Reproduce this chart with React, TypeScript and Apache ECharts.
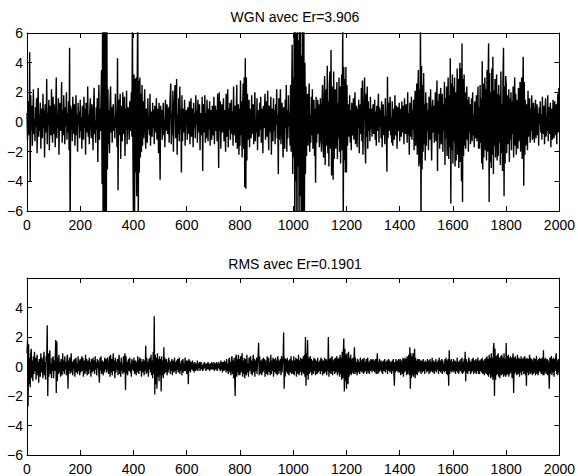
import React, { useEffect, useRef } from "react";
import * as echarts from "echarts";

// One stored value every 2 samples (1000 values over 2000 samples)
const SAMPLE_STEP = 2;

const wgnTitle = "WGN avec Er=3.906";
const rmsTitle = "RMS avec Er=0.1901";

const xTicks = { min: 0, max: 2000, interval: 200 };
const yTicks = { min: -6, max: 6, interval: 2 };

// WGN signal (top)
const wgnValues: number[] = [
  0.6, -1.2, 1.4, 0.3, -0.9, 4.7, -4.0, 1.8, -0.5, 1.1, -1.6, 0.4, 2.2, -0.8, 0.2, -1.3, 1.0, -0.3, 1.6, -2.1, 0.7, 2.3, -1.0, 0.5, -0.6, 1.3, -1.8, 0.9, 0.1, -1.1, 1.9, -0.4, 0.8, -2.4, 1.2, 0.3, -0.7, 2.9, -1.5, 0.6, -0.2, 1.5, -1.9, 0.4, 1.1, -0.9, 2.2, -0.3, -1.4, 1.7,
  -0.8, 1.2, 0.2, -1.7, 0.9, 3.0, -1.1, 0.5, -0.4, 1.6, -2.2, 0.7, 1.3, -0.6, 0.3, 2.7, -1.4, 0.8, -0.9, 1.8, 0.1, -1.5, 1.0, -0.3, 2.0, -1.2, 0.6, -0.7, 1.4, -1.9, 5.0, -7.5, 1.1, -0.5, 0.9, -1.3, 1.7, 0.2, -0.8, 1.2, -1.6, 0.4, 1.8, -0.9, 0.5, -2.0, 1.3, -0.2, 0.7, -1.1,
  1.5, -0.6, 0.3, -1.8, 1.1, 0.6, -1.2, 1.7, -0.4, 0.9, -2.2, 1.3, 0.2, -0.7, 2.4, -1.0, 0.5, -1.5, 0.8, 1.6, -0.3, -1.1, 1.2, 0.4, -1.9, 0.7, 2.3, -0.8, 0.1, -1.4, 1.0, -0.5, 1.6, -2.7, 0.6, 2.5, -1.2, 0.9, -0.6, 1.4, 3.5, -4.2, 7.5, -8.0, 9.0, -7.0, 8.0, -6.5, 6.8, -7.2,
  6.5, -3.2, 2.2, -1.5, 0.8, -2.1, 1.4, 2.4, -0.7, 1.0, -1.4, 0.5, 1.2, -0.6, 0.3, -1.1, 1.9, -0.4, 0.7, -1.7, 4.3, -4.6, 1.5, -0.9, 0.6, 1.9, -2.5, 0.4, 1.1, -1.3, 2.0, -0.8, 0.2, 1.7, -2.3, 0.9, -0.5, 2.1, -1.5, 0.6, 1.0, -0.3, -1.2, 1.4, -0.6, 0.8, 2.0, -1.0, 7.0, -2.5,
  -7.5, 3.2, -6.8, 2.9, -3.4, 3.0, -5.0, 2.6, 8.0, -7.0, 2.8, -3.4, 3.0, -2.4, 1.9, -2.0, 2.5, -1.6, 1.4, -1.1, 0.6, 2.2, -0.8, -1.8, 0.9, 0.3, -1.4, 1.6, -0.5, 0.4, -0.9, 1.9, -1.6, 0.7, 0.2, -1.0, 1.3, -0.4, 0.8, -1.5, 1.1, 0.5, -0.7, 1.6, -1.2, 0.3, 0.9, -2.1, 1.3, -0.6,
  -3.9, 1.1, -0.4, 0.8, -1.2, 0.5, 1.3, -0.9, 0.2, -1.7, 1.5, -0.6, 0.4, 1.2, -0.8, -0.3, 1.0, -1.4, 0.7, 1.8, 2.6, -1.5, 0.6, -0.9, 2.1, -2.0, 0.8, 1.4, 2.5, -1.1, 0.3, 2.9, -2.2, 0.5, -0.8, 1.6, -1.3, 2.4, -0.5, 0.9, -3.4, 1.8, -1.3, 0.4, 0.9, -0.7, 1.5, -1.6, 0.2, 0.8,
  0.7, -1.2, 1.0, 0.2, -0.8, 1.4, -1.5, 0.5, 1.6, -1.0, 0.3, 0.9, -1.7, 1.3, -0.4, 0.6, -1.1, 1.8, -0.2, 0.8, -1.4, 1.5, 0.1, -0.7, 1.2, -1.9, 0.4, 0.6, -0.9, 1.7, -3.3, 1.2, -0.7, 0.3, 1.8, -1.4, 0.6, -1.1, 1.5, 0.2, -1.3, 0.9, -0.5, 1.4, -1.6, 0.8, 0.4, -1.2, 1.1, -0.6,
  -0.9, 1.7, -1.5, 0.4, 1.1, -0.6, 0.8, -1.3, 1.9, -0.2, -3.1, 2.0, -0.6, 1.4, -1.8, 0.5, 1.2, -0.7, 0.3, 1.6, -1.3, 0.8, -0.4, -2.0, 1.9, -1.0, 0.6, 2.2, -1.7, 0.9, -0.5, 1.3, -1.2, 0.2, 1.5, -0.8, 0.7, -1.6, 2.4, -0.9, 0.4, 1.1, -1.4, 0.6, 2.5, -1.8, 0.3, 1.2, -2.2, 0.9,
  -1.6, 2.8, -0.9, 1.4, -2.4, 0.7, 2.6, -1.8, 3.0, -4.4, 4.3, -4.5, 3.0, -2.6, 1.9, -1.2, 0.5, 1.5, -1.7, 0.9, -0.3, -1.1, 1.8, -0.8, 0.4, 1.2, -1.5, 0.6, 2.0, -1.3, 0.2, -0.7, 1.6, -1.9, 0.8, 0.3, -1.0, 1.3, -0.5, 1.7, -1.4, 0.5, 0.9, -2.1, 1.1, -0.4, 0.7, 1.9, -1.2, 0.3,
  1.4, -1.0, 2.1, -0.5, -1.9, 1.1, 0.4, -0.7, 1.7, -2.2, 0.9, 0.2, -1.3, 1.6, -0.6, 0.8, -1.5, 1.2, -0.2, 2.2, -1.1, 0.5, -3.5, 1.6, -1.2, 0.7, 2.2, -1.5, 0.3, 1.3, -0.9, -2.4, 1.0, 0.6, -1.8, 1.5, -0.4, 2.5, -2.0, 0.8, -1.1, 1.8, -0.3, 0.6, -1.6, 2.5, -2.0, 1.2, 5.2, -3.5,
  3.0, -2.4, 8.0, -8.5, 7.5, -4.0, 6.0, -9.0, 8.5, -3.0, 5.5, -7.5, 7.0, -5.0, 8.0, -7.0, 4.5, -6.5, 7.5, -8.0, 6.5, -6.8, 4.0, -3.5, 2.4, -2.3, 1.2, 1.9, -1.6, 0.8, 2.6, -2.0, 0.5, -1.4, 1.7, -0.9, 2.2, -1.8, 0.6, 1.5, -2.3, 0.9, -4.1, 1.7, -1.4, 0.4, 1.5, -0.8, 1.2, -1.7,
  -1.2, 1.6, 0.3, -2.0, 1.1, 2.5, -1.4, -2.4, 1.8, 3.1, -2.9, 0.7, 2.2, -1.6, 3.8, -2.1, 1.4, -3.0, 2.6, 3.4, -1.8, 4.85, -3.6, 2.4, -1.2, -3.9, 3.4, -2.5, 1.6, 2.2, -1.8, 0.9, 2.7, -2.5, 1.3, -1.1, 3.0, -2.0, 2.4, -2.8, 1.5, 3.2, -1.9, 7.0, -7.2, 3.7, -2.6, 2.9, -3.4, 3.7,
  -3.4, 2.5, -1.6, 1.2, 0.4, -1.0, 1.8, -1.4, 0.8, -1.9, 1.3, -0.2, -0.9, 1.6, -1.2, 0.7, 2.0, -1.5, 0.3, 1.1, -1.7, 0.9, -0.4, 1.5, -2.1, 0.6, 1.2, -0.8, 2.3, -1.3, 2.8, -2.2, 0.5, 1.4, 3.0, -1.6, -2.8, 1.9, -1.0, 2.4, -1.8, 1.4, -0.6, 0.9, -1.3, 1.7, -0.5, 0.9, -1.0, 0.3,
  1.2, -0.8, 0.3, 1.5, -1.2, 0.7, -1.6, 1.1, -0.6, 0.2, 1.9, -1.4, 1.0, -0.3, 0.8, -1.1, 1.4, -1.7, 0.5, 1.2, -0.9, 0.4, -1.5, 1.6, 0.1, -0.7, -3.35, 3.05, -1.1, 1.3, -0.6, 0.8, 1.7, -0.9, 0.3, -1.4, 1.4, -1.6, 0.6, 0.9, -1.2, 1.8, -0.4, -0.9, 1.1, -1.8, 0.5, 1.0, -0.6, 1.3,
  -1.3, 0.9, -0.3, -1.0, 1.4, -0.7, 0.4, 1.1, -1.5, 1.6, -0.2, -0.8, 1.2, 0.5, -1.4, 2.0, -0.9, 0.6, -2.2, 1.3, 0.3, -1.0, 1.7, -1.2, 0.8, -0.5, 1.5, -1.9, 0.9, 2.1, -1.6, 0.4, 2.6, -2.2, 1.4, 3.5, -3.0, 2.2, -2.8, 7.0, -7.5, 3.8, -3.2, 2.5, -2.0, 3.3, -1.5, 1.2, -2.6, 2.0,
  -1.6, 1.3, -0.6, 0.8, -1.9, 1.7, 0.4, -1.2, 2.2, -0.9, -2.6, 0.9, 1.5, -0.7, 1.1, -1.4, 0.6, 2.0, -1.3, 0.5, 2.8, -3.3, 1.4, -0.8, 1.9, -1.8, 0.7, 2.3, -1.5, 0.3, 1.9, -2.0, 1.2, -0.6, 2.7, -2.9, 1.6, -1.1, 2.4, -2.3, 0.9, 3.0, -2.5, 1.8, -1.7, 4.3, -5.5, 2.6, -1.9, 3.2,
  -2.8, 2.4, -1.3, 3.0, -3.0, 2.0, -2.6, 1.1, 3.6, -2.2, 2.9, -3.1, 1.8, 4.0, -2.7, 3.6, -4.0, 5.3, -5.4, 2.9, -2.3, 3.2, -1.6, 2.0, -1.8, 0.8, 2.4, -1.2, 1.5, -2.0, 1.7, -0.7, 1.2, -1.5, 0.6, 1.6, -1.3, 2.0, -0.9, 0.5, -1.7, 1.4, 0.3, -1.1, 1.8, -1.3, 0.7, 2.4, -1.8, 1.0,
  -1.8, 2.5, -1.4, 1.6, -2.8, 4.1, -3.2, 2.6, -2.4, 1.3, 3.0, -1.9, 2.2, -2.6, 3.5, -2.0, 2.8, 5.3, -5.4, 3.3, -2.7, 2.0, -3.1, 3.6, -2.2, 4.4, -3.5, 2.1, -1.6, 2.9, -2.4, 1.5, 3.2, -2.6, 1.9, -2.3, 2.5, -1.4, 1.8, -2.9, 3.4, -2.1, 1.2, -3.3, 3.0, 5.0, -5.0, 2.4, -2.8, 3.1,
  2.6, -2.1, 1.8, -1.5, 0.7, 2.2, -2.7, 1.6, -1.2, 2.0, -1.9, 1.4, -0.8, 2.4, -2.4, 1.1, 3.0, -1.6, 1.9, -2.2, 0.9, 1.5, -1.8, 2.3, -1.3, 0.6, 2.7, -2.0, 1.2, 3.0, -2.5, 1.8, 4.4, -4.3, 2.7, -2.2, 1.5, -1.6, 0.8, 1.2, -1.9, 2.1, -1.0, 0.5, 1.6, -1.4, 0.9, -0.6, 1.8, -1.2,
  -1.0, 1.3, -0.4, -1.4, 0.8, 1.5, -1.1, 0.3, 1.2, -0.9, 0.6, -1.6, 1.0, -0.2, 1.4, -0.7, 0.5, -1.2, 1.7, -0.8, 0.2, 1.1, -1.5, 0.9, 1.6, -1.0, 0.4, -0.6, 1.8, -1.3, 0.7, 1.0, -0.8, 1.3, -1.7, 0.5, 0.9, -1.2, 1.5, -0.4, -1.1, 1.4, 0.6, -0.9, 1.2, -1.5, 0.8, 1.9, -0.7, 2.3,
];

// RMS signal (bottom)
const rmsValues: number[] = [
  0.9, 1.8, -2.7, 1.5, -1.2, 0.6, -1.4, 0.9, 1.2, -0.8, 0.4, -1.0, 0.7, -0.5, 1.0, -0.3, 0.6, -0.9, 0.4, 0.8, -0.6, 0.3, -1.1, 0.5, 0.2, -0.7, 0.9, -0.4, 0.6, -0.2, -0.8, 0.5, 1.0, -0.6, 0.3, -0.9, 0.7, 0.4, 2.8, -2.0, 0.9, -0.7, 0.5, 1.1, -0.5, 0.2, -0.8, 0.6, -0.3, 0.7,
  -0.8, 0.4, -0.3, 0.6, 1.8, -1.8, 1.7, -1.0, 0.6, -0.5, 0.8, -0.4, 0.3, -0.7, 0.5, 0.2, -0.6, 0.9, -0.3, 0.4, -0.5, 0.7, -0.2, 0.3, -0.6, 0.5, 0.8, -1.5, 0.4, -0.3, 0.6, -0.5, 0.2, 0.9, -0.4, 0.3, -0.6, 0.4, -0.2, 0.5, -0.7, 0.3, 0.6, -0.4, 0.2, -0.5, 0.7, -0.3, 0.4, -0.6,
  0.5, -0.4, 0.2, 0.7, -0.3, 0.6, -0.7, 0.4, -0.2, -0.5, 0.8, -0.3, 0.5, -0.6, 0.1, 0.4, -0.5, 0.6, -0.2, 0.3, -0.7, 0.5, 0.2, -0.4, 0.6, -0.3, 0.4, -0.5, 0.7, -0.2, 0.3, -0.6, 0.5, -0.1, 0.4, -0.5, -1.1, 0.6, -0.3, 0.7, -0.5, 0.2, 0.4, -0.6, 0.3, -0.4, 0.6, -0.2, 0.5, -0.4,
  -0.4, 0.6, -0.2, -0.5, 0.3, 0.7, -0.7, 0.8, -0.4, 0.5, -0.6, 0.2, 0.9, -0.3, 0.4, -0.8, 0.6, -0.4, 0.3, -0.2, 0.5, -0.6, 0.4, 0.8, -0.5, 0.3, -0.7, 0.6, -0.3, 0.2, -0.5, 0.7, -0.4, 0.5, 0.9, -1.6, 0.7, -0.5, 0.3, -0.6, 0.4, 0.5, -0.3, 0.6, -0.4, 0.2, -0.7, 0.5, -0.2, 0.4,
  -0.3, 0.6, -0.5, 0.2, 0.4, -0.6, 0.3, -0.4, 0.7, -0.2, -0.5, 0.4, 0.6, -0.3, 0.5, -0.7, 0.3, -0.4, 0.5, 0.2, -0.6, 0.4, -0.3, 1.4, -0.5, 0.6, -0.4, 0.3, -0.7, 0.5, -0.2, 0.6, -0.4, 0.8, -0.6, 0.4, -0.8, 1.0, -0.5, 3.4, -1.9, 0.8, -1.2, 0.6, -1.5, 0.9, -0.7, 0.5, -1.0, 0.7,
  -0.6, 0.5, -1.7, 0.7, -0.6, 0.4, -0.8, 1.3, -0.5, 0.6, -0.4, 0.2, 0.5, -0.6, 0.3, -0.4, 0.6, -0.2, 0.4, -0.5, 0.3, -0.3, 0.5, -0.6, 0.4, 0.2, -0.4, 0.6, -0.3, 0.3, -0.5, 0.4, -0.2, 0.5, -0.4, 0.3, 0.6, -0.5, 0.2, -0.3, 0.4, -0.6, 0.3, 0.5, -0.4, 0.2, -0.3, 0.6, -0.3, 0.4,
  -0.5, 0.3, 0.4, -1.2, 0.5, -0.3, 0.4, -0.4, 0.2, 0.3, -0.2, 0.4, -0.3, 0.2, -0.4, 0.3, 0.1, -0.3, 0.2, -0.2, 0.4, -0.3, 0.2, -0.1, 0.3, -0.3, 0.2, 0.3, -0.2, 0.1, -0.3, 0.2, -0.2, 0.3, -0.1, 0.2, -0.3, 0.2, 0.1, -0.2, 0.3, -0.2, 0.2, -0.3, 0.1, 0.2, -0.2, 0.3, -0.2, 0.2,
  -0.2, 0.3, -0.3, 0.2, 0.1, -0.2, 0.3, -0.3, 0.2, -0.1, 0.3, -0.2, 0.2, -0.3, 0.4, -0.2, 0.3, -0.4, 0.2, 0.3, -0.3, 0.4, -0.2, 0.3, -0.4, 0.5, -0.3, 0.2, -0.5, 0.4, 0.6, -0.4, 0.3, -0.6, 0.5, 0.7, -0.5, 0.4, -0.8, 0.6, -0.7, -2.0, 0.6, 0.8, -0.7, 0.5, -0.4, 0.8, -0.6, 0.5,
  -0.6, 0.7, -0.4, 0.5, 0.9, -0.7, 0.4, -0.5, 0.6, -0.8, 0.3, 0.5, -0.6, 0.8, -0.4, 0.2, -0.7, 0.6, -0.3, 0.5, 0.7, -0.5, 0.4, -0.6, 0.3, 0.8, -0.4, 0.5, -0.7, 0.4, -0.3, 0.6, -0.5, 0.4, 0.7, 1.6, -0.6, 0.7, -0.5, 0.3, 0.4, -0.6, 0.5, -0.4, 0.6, -0.3, 0.5, -0.7, 0.4, 0.3,
  -0.5, 0.7, -0.6, 0.4, 0.6, -0.4, 0.3, -0.6, 0.8, -0.5, 0.4, -0.3, 0.6, -0.7, 0.5, 0.2, -0.4, 0.6, -0.5, 0.4, -0.6, 0.7, 0.3, -0.5, 0.4, -0.3, 0.5, -0.6, 0.7, -0.4, 0.3, 0.6, 2.3, -1.5, 0.6, -0.7, 0.5, 0.3, -0.4, 0.6, -0.5, 0.4, -0.6, 0.2, 0.5, -0.4, 0.7, -0.5, 0.3, 0.4,
  -0.5, 0.7, -0.6, 0.4, -0.3, 0.6, -0.7, 0.5, 0.3, -0.5, 0.8, -0.6, 0.4, -0.4, 0.6, 0.3, -0.6, 0.5, -0.4, 0.7, -0.5, 0.8, -0.7, 2.0, -1.3, 0.9, -0.6, 1.8, -0.9, 0.6, -0.5, 0.4, 0.7, -0.4, 0.5, -0.6, 0.3, 0.4, -0.5, 0.6, -0.3, 0.5, -0.6, 0.4, 0.2, -0.5, 0.6, -0.4, 0.3, -0.3,
  0.4, -0.5, 0.6, -0.3, 0.5, -0.6, 0.3, 0.4, -0.5, 0.6, -0.4, 0.2, 0.5, -0.6, 0.4, -0.3, 2.0, -0.7, 0.5, -0.4, 0.6, -0.5, 0.3, 0.7, -0.6, 0.4, -0.3, 0.5, -0.5, 0.6, -0.4, 0.3, 0.7, -0.6, 0.5, -0.4, 0.6, -0.7, 0.8, -0.5, 0.6, -0.9, 1.0, -0.8, 0.9, 1.9, -1.7, 1.2, -1.0, 0.8,
  -1.5, 0.9, -0.8, -1.2, 1.0, -0.7, 0.6, -0.5, 0.8, -0.6, 0.5, -0.4, 0.6, -0.5, 0.4, 1.3, -0.5, 0.6, -0.4, 0.3, -0.6, 0.5, 0.4, -0.4, 0.3, -0.5, 0.6, -0.3, 0.4, -0.4, 0.5, 0.2, -0.5, 0.6, -0.4, 0.3, -0.3, 0.5, -0.5, 0.4, 0.6, -0.4, 0.3, -0.5, 0.4, -0.3, 0.5, 0.3, -0.4, 0.4,
  0.5, -0.3, 0.4, -0.4, 0.3, 0.5, -0.5, 0.3, 0.9, -0.5, 0.3, -0.4, 0.5, -0.3, 0.2, 0.4, -0.4, 0.3, -0.5, 0.4, 0.2, -0.3, 0.5, -0.4, 0.3, -0.2, 0.4, -0.5, 0.3, 0.5, -0.3, 0.4, -0.4, 0.2, 0.3, -0.5, 0.4, -0.3, 0.5, -0.4, -1.3, 0.3, -0.4, 0.5, -0.3, 0.4, 0.2, -0.4, 0.5, -0.3,
  -0.4, 0.5, -0.6, 0.4, 0.3, -0.5, 0.6, -0.7, 0.5, -0.4, 0.6, -0.3, 0.5, -0.6, 0.7, -0.5, 0.4, 0.8, -0.6, 1.3, -1.5, 0.9, -0.8, 0.7, -0.6, 0.9, -0.7, 0.5, 1.2, -0.8, 0.6, -0.5, 0.4, -0.6, 0.5, 0.3, -0.4, 0.5, -0.3, 0.4, -0.5, 0.3, 0.4, -0.4, 0.5, -0.3, 0.3, -0.5, 0.4, -0.2,
  0.3, -0.4, 0.5, -0.3, 0.4, -0.5, 0.2, 0.5, -0.4, 0.3, -0.3, 0.6, -0.4, 0.3, 0.4, -0.5, 0.3, -0.3, 0.5, -0.4, 0.3, -0.2, 0.4, -0.5, 0.6, -0.3, 0.4, -0.4, 0.3, 0.5, -0.5, 0.4, -0.3, 0.2, -0.4, 0.5, -0.3, 0.6, -0.5, 0.4, -0.6, 0.5, -1.3, 1.1, -0.5, 0.4, -0.3, 0.5, -0.4, 0.3,
  -0.3, 0.5, -0.4, 0.3, 0.4, -0.5, 0.3, -0.3, 0.6, -0.4, 0.3, -0.5, 0.4, 0.2, -0.3, 0.5, -0.4, 0.6, -0.5, 0.3, -0.4, 0.5, -0.3, 1.0, -1.0, 0.5, -0.4, 0.3, -0.5, 0.4, 0.6, -0.3, 0.4, -0.5, 0.3, -0.4, 0.5, -0.3, 0.6, -0.5, 0.4, -0.4, 0.3, 0.5, -0.5, 0.4, -0.3, 0.6, -0.5, 0.4,
  -0.5, 0.4, -0.3, 0.5, -0.4, 0.6, -0.5, 0.3, 0.4, -0.6, 0.5, -0.4, 0.6, -0.5, 0.7, -0.6, 0.5, -0.7, 0.8, -0.5, 0.6, -0.8, 0.9, -0.7, 0.6, -0.9, 1.2, 1.6, -2.0, 1.2, -0.9, 0.7, -0.6, 0.8, -0.5, 0.9, -0.7, 0.6, -0.8, 0.5, 0.7, -0.6, 0.8, -0.5, 0.6, -0.7, 0.9, -0.6, 0.5, -0.7,
  1.6, -0.6, 0.7, -0.5, 0.8, -0.7, 0.6, -0.5, 0.7, -0.4, 0.6, -0.8, 0.5, 0.9, -1.8, 0.6, -0.5, 0.7, -0.4, 0.5, -0.6, 0.8, -0.5, 0.4, 0.6, -0.7, 0.5, -0.4, 0.7, -0.6, 0.5, -0.3, 0.6, -0.5, 0.4, 0.7, -0.6, 0.5, -1.3, 0.6, -0.4, 0.5, -0.6, 0.4, 0.8, -0.5, 0.6, -0.4, 0.5, -0.6,
  0.4, -0.5, 0.6, -0.4, 0.5, -0.6, 0.3, 0.7, -0.5, 0.4, -0.6, 0.5, -0.3, 0.6, -0.4, 0.5, -0.5, 0.4, 0.6, -0.6, 1.1, -0.6, 0.5, -0.4, 0.6, -0.5, 0.3, 0.5, -0.6, 0.4, -0.4, -1.5, 0.6, -0.5, 0.4, 0.7, -0.6, 0.5, -0.4, 0.6, -0.7, 0.5, -0.3, 0.6, 0.9, -0.5, 0.4, -0.6, 0.5, -0.4,
];

const FONT = "Liberation Sans, Arial, Helvetica, sans-serif";

const fmtY = (v: number) => (v < 0 ? "\u2212" + String(-v) : String(v));

function buildAxes(gridIndex: number, hideTopLabel: boolean) {
  const lineStyle = { color: "#000", width: 1 };
  const tick = { show: true, inside: true, length: 5, lineStyle };
  const xBottom = {
    type: "value",
    gridIndex,
    position: "bottom",
    ...xTicks,
    axisLine: { show: true, onZero: false, lineStyle },
    axisTick: tick,
    splitLine: { show: false },
    axisLabel: {
      show: true,
      color: "#000",
      fontSize: 14,
      fontFamily: FONT,
      margin: 7,
      formatter: (v: number) => String(v),
    },
  };
  const xTop = {
    type: "value",
    gridIndex,
    position: "top",
    ...xTicks,
    axisLine: { show: true, onZero: false, lineStyle },
    axisTick: tick,
    splitLine: { show: false },
    axisLabel: { show: false },
  };
  const yLeft = {
    type: "value",
    gridIndex,
    position: "left",
    ...yTicks,
    axisLine: { show: true, onZero: false, lineStyle },
    axisTick: tick,
    splitLine: { show: false },
    axisLabel: {
      show: true,
      color: "#000",
      fontSize: 14,
      fontFamily: FONT,
      margin: 4,
      formatter: (v: number) => (hideTopLabel && v === yTicks.max ? "" : fmtY(v)),
    },
  };
  const yRight = {
    type: "value",
    gridIndex,
    position: "right",
    ...yTicks,
    axisLine: { show: true, onZero: false, lineStyle },
    axisTick: tick,
    splitLine: { show: false },
    axisLabel: { show: false },
  };
  return { xs: [xBottom, xTop], ys: [yLeft, yRight] };
}

export default function App() {
  const ref = useRef<HTMLDivElement>(null);

  useEffect(() => {
    if (!ref.current) return;
    const chart = echarts.init(ref.current, undefined, { renderer: "svg" });

    const a0 = buildAxes(0, false);
    const a1 = buildAxes(1, true);

    const toPairs = (vals: number[]) => vals.map((v, i) => [i * SAMPLE_STEP, v]);

    const titleStyle = { color: "#000", fontSize: 14, fontWeight: "normal", fontFamily: FONT };

    const option = {
      animation: false,
      backgroundColor: "#fff",
      title: [
        { text: wgnTitle, left: 295, top: 10, padding: 0, textAlign: "center", textStyle: titleStyle },
        { text: rmsTitle, left: 295, top: 257, padding: 0, textAlign: "center", textStyle: titleStyle },
      ],
      grid: [
        { left: 27, top: 33, width: 536, height: 178, containLabel: false },
        { left: 27, top: 278, width: 536, height: 178, containLabel: false },
      ],
      xAxis: [...a0.xs, ...a1.xs],
      yAxis: [...a0.ys, ...a1.ys],
      series: [
        {
          type: "line",
          xAxisIndex: 0,
          yAxisIndex: 0,
          data: toPairs(wgnValues),
          showSymbol: false,
          symbol: "none",
          clip: true,
          lineStyle: { color: "#000", width: 1.4 },
          silent: true,
        },
        {
          type: "line",
          xAxisIndex: 2,
          yAxisIndex: 2,
          data: toPairs(rmsValues),
          showSymbol: false,
          symbol: "none",
          clip: true,
          lineStyle: { color: "#000", width: 1.3 },
          silent: true,
        },
      ],
    };

    chart.setOption(option as any);
    return () => chart.dispose();
  }, []);

  return (
    <div
      ref={ref}
      style={{ position: "absolute", left: 0, top: 0, width: 578, height: 476, background: "#fff" }}
    />
  );
}
